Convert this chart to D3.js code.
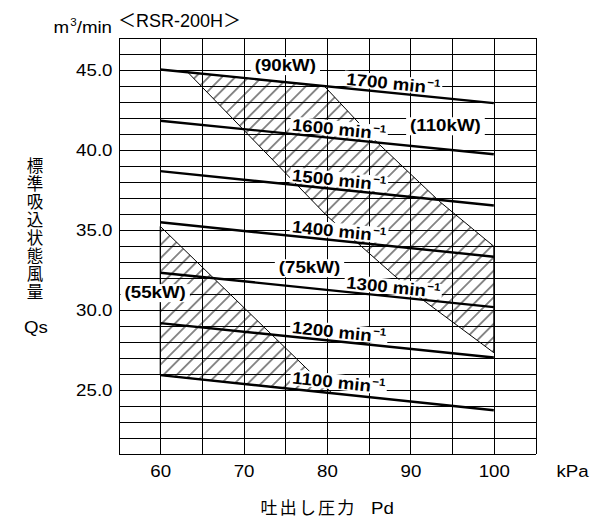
<!DOCTYPE html>
<html><head><meta charset="utf-8">
<script src="https://cdn.jsdelivr.net/npm/d3@7"></script>
<style>body{margin:0;background:#fff}svg{display:block}</style>
</head><body><svg id="c" width="590" height="519"></svg>
<script>
// ---------- data ----------
const pressureTicks = [60, 70, 80, 90, 100];
const flowTicks = [25, 30, 35, 40, 45];
const speeds = [1100, 1200, 1300, 1400, 1500, 1600, 1700];
const pressureEnds = [60, 100];
const flowAt60 = [25.9, 29.15, 32.3, 35.45, 38.65, 41.8, 45.0];
const flowAt100 = [23.7, 27.0, 30.15, 33.3, 36.5, 39.7, 42.9];
const powerLabels = ["(55kW)", "(75kW)", "(90kW)", "(110kW)"];
const hatchHigh = [[63.3, 44.83], [79.7, 43.95], [85.9, 40.5], [93.5, 36.75], [100, 33.95],
                   [100, 27.3], [91.5, 30.6], [87.9, 32.2], [80, 35.85]];
const hatchLow = [[60, 35.2], [80.6, 24.77], [60, 25.9]];

// ---------- layout ----------
const svg = d3.select("#c");
const x = d3.scaleLinear([55, 105], [118.5, 535.5]);
const y = d3.scaleLinear([21, 47], [453.5, 37.5]);
const SX = 1.1;
const LAT = '"Liberation Sans", Arial, Helvetica, sans-serif';
const CJK = '"Noto Sans CJK JP", "Noto Sans CJK SC", sans-serif';

svg.append("rect").attr("width", 590).attr("height", 519).attr("fill", "#fff");

// grid via axes
const gGrid = svg.append("g");
gGrid.append("g").attr("transform", `translate(0,${y(21)})`)
  .call(d3.axisBottom(x).tickValues(d3.range(55, 106, 5)).tickSize(-(y(21) - y(47))).tickFormat(""));
gGrid.append("g").attr("transform", `translate(${x(55)},0)`)
  .call(d3.axisLeft(y).tickValues(d3.range(21, 48, 1)).tickSize(-(x(105) - x(55))).tickFormat(""));
gGrid.selectAll(".domain").remove();
gGrid.selectAll("line").attr("stroke", "#000").attr("stroke-width", 1).attr("shape-rendering", "crispEdges");

// hatch pattern
const defs = svg.append("defs");
const pat = defs.append("pattern").attr("id", "hatch").attr("patternUnits", "userSpaceOnUse")
  .attr("width", 9.4).attr("height", 9.4).attr("patternTransform", "rotate(45)");
pat.append("line").attr("x1", 4.7).attr("x2", 4.7).attr("y1", -1).attr("y2", 10.4)
  .attr("stroke", "#000").attr("stroke-width", 0.9);

const line = d3.line().x(d => x(d[0])).y(d => y(d[1]));
[hatchHigh, hatchLow].forEach(pts => {
  svg.append("path").attr("d", line(pts) + "Z").attr("fill", "url(#hatch)")
    .attr("stroke", "#000").attr("stroke-width", 1);
});

// tick labels via axes
const xa = svg.append("g").attr("transform", `translate(0,${y(21)})`)
  .call(d3.axisBottom(x).tickValues(pressureTicks).tickSize(0).tickPadding(0).tickFormat(d3.format("d")));
xa.select(".domain").remove();
xa.selectAll("text").attr("y", 0).attr("dy", 0)
  .attr("transform", `translate(0,23.5) scale(${SX},1)`)
  .attr("font-family", LAT).attr("font-size", 17).attr("fill", "#000");

const ya = svg.append("g").attr("transform", `translate(${x(55)},0)`)
  .call(d3.axisLeft(y).tickValues(flowTicks).tickSize(0).tickPadding(0).tickFormat(d3.format(".1f")));
ya.select(".domain").remove();
ya.selectAll("text").attr("x", 0).attr("dy", 0)
  .attr("transform", `translate(-6,6) scale(${SX},1)`)
  .attr("font-family", LAT).attr("font-size", 17).attr("fill", "#000");

// helpers
function stretchedText(px, py, str, opt = {}) {
  const g = svg.append("g").attr("transform", `translate(${px},${py}) rotate(${opt.angle || 0})`);
  const t = g.append("text").attr("transform", `scale(${opt.sx || SX},1)`)
    .attr("font-family", opt.family || LAT).attr("font-size", opt.size || 17)
    .attr("font-weight", opt.bold ? "bold" : "normal")
    .attr("text-anchor", opt.anchor || "start").attr("fill", "#000");
  t.append("tspan").text(str);
  if (opt.sup) t.append("tspan").attr("font-size", 10.5).attr("dx", 1).attr("dy", -7).text(opt.sup);
  if (opt.after) t.append("tspan").attr("dy", 7).text(opt.after);
  return {g, t};
}
function boxed(px, py, str, opt) {
  const {g, t} = stretchedText(px, py, str, opt);
  const bb = t.node().getBBox();
  const sx = opt.sx || SX;
  g.insert("rect", "text").attr("fill", "#fff")
    .attr("x", bb.x * sx - opt.padX).attr("width", bb.width * sx + 2 * opt.padX)
    .attr("y", -opt.top).attr("height", opt.top + opt.bottom);
}

// power labels (boxed, horizontal)
const powerPos = {"(90kW)": [75.0, 44.9], "(110kW)": [94.2, 41.14], "(75kW)": [77.9, 32.27], "(55kW)": [59.4, 30.71]};
powerLabels.forEach(p => {
  const [kp, fl] = powerPos[p];
  boxed(x(kp), y(fl), p, {bold: true, size: 17, anchor: "middle", padX: 4, top: 14, bottom: 4});
});

// speed labels (boxed, rotated along lines)
const speedLabelStart = {1700: 82.2, 1300: 82.2};
const speedLabelOff = {1100: 5.5};
speeds.forEach((s, i) => {
  const f0 = flowAt60[i], f1 = flowAt100[i];
  const a = Math.atan2(y(f1) - y(f0), x(100) - x(60));
  const xs = speedLabelStart[s] || 75.7;
  const ly = y(f0 + (f1 - f0) * (xs - 60) / 40);
  const d = speedLabelOff[s] || 3.5;
  const px = x(xs) + d * Math.sin(a), py = ly - d * Math.cos(a);
  boxed(px, py, s + " min", {bold: true, size: 17, angle: a * 180 / Math.PI, sup: "\u22121",
    padX: 2, top: 14, bottom: 1.5});
});

// speed lines
speeds.forEach((s, i) => {
  svg.append("path").attr("d", line([[pressureEnds[0], flowAt60[i]], [pressureEnds[1], flowAt100[i]]]))
    .attr("stroke", "#000").attr("stroke-width", 2.4).attr("fill", "none");
});

// titles
stretchedText(112, 33.3, "m", {anchor: "end", sup: "3", after: "/min", size: 17});
svg.append("text").attr("x", 118).attr("y", 27).attr("font-family", LAT)
  .attr("font-size", 18).call(t => {
    t.append("tspan").attr("font-family", CJK).text("\uFF1C");
    t.append("tspan").text("RSR-200H");
    t.append("tspan").attr("font-family", CJK).text("\uFF1E");
  });

stretchedText(556.5, 477, "kPa", {size: 17});

// y axis title (vertical, single text element)
svg.append("text").attr("x", 35).attr("y", 157)
  .attr("writing-mode", "vertical-rl").attr("text-orientation", "upright")
  .attr("font-family", CJK).attr("font-size", 16.5).attr("letter-spacing", 1.6)
  .text("標準吸込状態風量");
stretchedText(36, 333, "Qs", {size: 17, anchor: "middle"});

// x axis title
svg.append("text").attr("x", 260.5).attr("y", 514).attr("font-family", CJK).attr("font-size", 17)
  .attr("letter-spacing", 2.2).text("吐出し圧力");
stretchedText(371, 514, "Pd", {size: 17});
</script></body></html>
